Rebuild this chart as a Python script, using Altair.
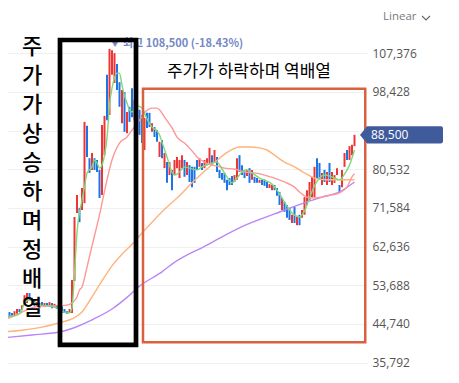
import altair as alt
import pandas as pd

# ---- candle data (index = trading day) ----
opens = [47300,47100,46600,47500,47300,46800,47100,48200,48000,49100,
         49600,51900,49600,50300,48700,48400,49800,48700,49600,48700,
         49600,48700,49100,48900,48700,48200,47700,47300,47300,54700,
         70400,71600,71100,72700,90600,83100,80400,83100,82700,80400,
         74600,83800,102400,93100,102400,100500,104900,100700,91200,98400,
         88900,95000,99300,91900,95400,94300,93100,85000,93600,93600,
         89200,90300,89600,83400,87300,80800,82200,79200,80400,79200,
         80800,78500,80800,82700,79200,81500,81100,81100,82700,81100,
         82000,80800,81500,82000,83800,82200,83400,80400,79700,79700,
         78100,78500,79000,77600,78100,83800,81500,80400,79000,80800,
         78100,78800,78500,77400,78100,78100,77600,76200,75700,76900,
         76200,75300,71100,73000,72300,71600,68100,71800,67600,70000,
         69300,70000,72300,73400,74100,74100,83100,82000,76900,80400,
         76900,82000,76900,77400,79200,76900,76400,81100,85000,82700,
         83800,85900]
closes = [46100,45900,47300,46100,46400,47700,48200,47500,49100,51400,
          51900,50300,50800,48900,49800,49600,48900,49600,48900,49800,
          48400,49400,48200,48000,47300,47300,47100,48200,54900,69500,
          74600,68300,76200,91500,83400,79700,84300,80400,79900,73900,
          90800,92900,91900,108400,108100,107400,98900,95000,98900,89200,
          93800,91500,92600,96600,90800,88500,86600,92400,90100,90300,
          91200,88000,86900,86900,83100,84300,77400,82200,75700,82700,
          83400,82700,83800,78800,82200,77600,76400,77400,80400,83100,
          80400,82700,83100,85500,81500,85000,79900,78500,78100,77400,
          75700,76900,76900,79200,83100,79900,79200,78500,80400,77400,
          80400,77400,77400,78100,76900,76700,76200,77100,76900,75700,
          74400,72300,73900,70700,69300,68800,70000,68100,69500,67600,
          71100,74100,75700,77600,78800,81100,78500,78100,79700,77600,
          79900,77600,79900,79200,80800,75100,80400,84300,82700,85900,
          86200,88500]

# ---- moving averages ----
ma5_idx = [0,4,6,8,9,11,13,15,19,22,24,26,27,28,29,30,32,33,34,36,
           37,38,39,40,41,42,43,44,45,46,47,48,49,50,51,52,54,56,58,60,
           62,63,64,66,68,69,71,73,75,78,80,83,86,88,90,92,94,96,98,100,
           103,106,108,110,112,114,116,119,121,123,125,127,129,131,133,135,137,139,141]
ma5_val = [46400,46600,46800,48000,49800,50300,49600,49100,48900,48400,
           47700,47300,47300,48400,56500,65800,73400,76400,79700,81100,
           82700,82000,80800,81500,83800,87800,95400,99300,101700,102800,
           102800,100000,97500,95900,94300,93800,95200,94700,92200,90300,
           89400,88500,86800,83400,79900,79200,79900,81100,80800,80400,
           81100,81800,82200,80600,78800,77400,78500,79900,80400,79700,
           78500,77800,77100,75700,73900,72000,70400,69500,70900,73900,
           76700,78500,79200,79000,78500,78100,79400,81500,85000]
ma20_idx = [0,4,10,15,20,26,28,30,31,32,34,36,39,42,44,47,50,52,55,57,
            60,62,63,65,68,70,73,76,78,81,84,86,89,93,97,101,105,109,113,117,
            119,122,125,128,132,135,138,140,141]
ma20_val = [45700,46400,48000,48900,48900,49100,49600,51000,52600,53300,
            57900,62800,70000,78100,82700,86600,88000,89600,91900,93600,
            94700,94700,94300,92600,90100,88000,86600,84800,83400,82200,
            81500,81300,80800,80600,79900,79700,79200,78500,77600,76400,
            75300,74100,73900,74100,74600,75100,76400,78800,79500]
ma60_idx = [0,8,16,24,28,32,36,40,44,48,52,56,60,66,71,76,82,87,91,95,
            99,103,106,109,113,117,121,125,130,135,141]
ma60_val = [42900,43300,44000,45200,45900,47500,51000,54700,58200,60900,
            63200,65800,68300,71800,74400,77400,80600,83100,84800,85700,
            85700,85500,85000,83800,82200,81100,79700,78500,78100,78100,78100]
ma120_idx = [0,12,24,28,36,44,50,55,64,68,82,95,109,122,128,135,141]
ma120_val = [41500,42200,43000,43700,45700,48200,50900,53500,56800,58600,
             63000,67000,70200,73000,74100,75300,77600]

tick_values = [35792,44740,53688,62636,71584,80532,89480,98428,107376]
last_price = 88500
high_price = 108500
high_idx = 43
high_label = "▼ 최고 108,500 (-18.43%)"

# annotation boxes (day index / price units)
box_up = dict(x1=23.2, x2=53.6, y1=110450, y2=39900)
box_down = dict(x1=56.4, x2=145.3, y1=99200, y2=40500)

KFONT = "Noto Sans CJK KR"
W, H = 359, 367
xs = alt.Scale(domain=[2.4, 146], nice=False, zero=False)
ys = alt.Scale(domain=[32935, 117859], nice=False, zero=False)

candles = pd.DataFrame({
    "idx": list(range(len(opens))),
    "open": opens,
    "close": closes,
})
candles["dir"] = ["up" if c >= o else "down" for o, c in zip(opens, closes)]

ma_rows = []
for name, ii, vv in [("ma120", ma120_idx, ma120_val), ("ma60", ma60_idx, ma60_val),
                     ("ma20", ma20_idx, ma20_val), ("ma5", ma5_idx, ma5_val)]:
    for i, v in zip(ii, vv):
        ma_rows.append({"idx": i, "val": v, "ma": name})
ma_df = pd.DataFrame(ma_rows)

# the label under the current-price tag is hidden (the tag covers it in the reference)
axis = alt.Axis(orient="right", values=tick_values, format=",d", grid=True,
                gridColor="#efefef", gridWidth=1, domain=False, ticks=False, tickSize=0,
                labelPadding=5, labelFont="Open Sans", labelFontSize=12,
                labelColor="#555555", title=None,
                labelExpr=f"abs(datum.value - {last_price}) < 3000 ? '' : format(datum.value, ',d')")
X = lambda f: alt.X(f, scale=xs, axis=None)
Y = lambda f: alt.Y(f, scale=ys, axis=axis)

ma_layer = alt.Chart(ma_df).mark_line(interpolate="monotone", strokeWidth=1.4, clip=True).encode(
    x=X("idx:Q"),
    y=Y("val:Q"),
    color=alt.Color("ma:N", scale=alt.Scale(domain=["ma5", "ma20", "ma60", "ma120"],
                                            range=["#7fd87a", "#ff9797", "#ffb37c", "#b886f8"]),
                    legend=None),
)

candle_layer = alt.Chart(candles).mark_rule(strokeWidth=2, clip=True).encode(
    x=X("idx:Q"),
    y=Y("open:Q"),
    y2="close:Q",
    stroke=alt.Stroke("dir:N", scale=alt.Scale(domain=["up", "down"], range=["#ee3434", "#1c74e6"]),
                      legend=None),
)

hi_df = pd.DataFrame({"idx": [high_idx], "price": [high_price], "t": [high_label]})
hi_text = alt.Chart(hi_df).mark_text(align="left", baseline="middle", dy=-4.5, font=KFONT,
                                     fontSize=11, fontWeight="bold", color="#7489c3").encode(
    x=X("idx:Q"),
    y=Y("price:Q"),
    text="t:N",
)

box1 = alt.Chart(pd.DataFrame([box_up])).mark_rect(fillOpacity=0, stroke="#000000", strokeWidth=4.7).encode(
    x=X("x1:Q"), x2="x2:Q",
    y=Y("y1:Q"), y2="y2:Q",
)
box2 = alt.Chart(pd.DataFrame([box_down])).mark_rect(fillOpacity=0, stroke="#d9613d", strokeWidth=2.5).encode(
    x=X("x1:Q"), x2="x2:Q",
    y=Y("y1:Q"), y2="y2:Q",
)

one = pd.DataFrame({"a": [1]})
vert_text = alt.Chart(one).mark_text(
    text="주\n가\n가\n상\n승\n하\n며\n정\n배\n열", lineBreak="\n", lineHeight=29,
    align="center", baseline="top", font=KFONT, fontSize=22, fontWeight=500, color="#000000",
).encode(x=alt.value(24), y=alt.value(29))

down_text = alt.Chart(one).mark_text(
    text="주가가 하락하며 역배열", align="center", baseline="middle",
    font=KFONT, fontSize=17, color="#000000",
).encode(x=alt.value(241), y=alt.value(64))

price_df = pd.DataFrame({"price": [last_price], "t": [f"{last_price:,}"]})
tag_shape = ("M-1,0L-0.83,-0.205L0.95,-0.205Q1,-0.205,1,-0.155L1,0.155"
             "Q1,0.205,0.95,0.205L-0.83,0.205Z")
price_tag = alt.Chart(price_df).mark_point(shape=tag_shape, size=6889, filled=True,
                                           opacity=1, color="#3f5b9c", strokeWidth=0).encode(
    x=alt.value(393.5),
    y=Y("price:Q"),
)
price_txt = alt.Chart(price_df).mark_text(align="left", baseline="middle", font="Open Sans",
                                          fontSize=12, color="#ffffff").encode(
    x=alt.value(363),
    y=Y("price:Q"),
    text="t:N",
)

linear_txt = alt.Chart(one).mark_text(text="Linear", align="left", baseline="middle",
                                      font="Open Sans", fontSize=11.5, color="#7a7a7a").encode(
    x=alt.value(375), y=alt.value(9))
chevron = alt.Chart(one).mark_point(shape="M-1,-0.5L0,0.5L1,-0.5", filled=False, size=64,
                                    color="#666666", strokeWidth=1.1, opacity=1).encode(
    x=alt.value(418), y=alt.value(10))

chart = alt.layer(
    candle_layer, ma_layer, hi_text, box1, box2,
    vert_text, down_text, price_tag, price_txt, linear_txt, chevron,
).resolve_scale(color="independent", stroke="independent").properties(
    width=W, height=H, padding={"left": 0, "top": 0, "right": 0, "bottom": 0}
).configure_view(strokeWidth=0)

chart.save("out.html", embed_options={"renderer": "svg", "actions": False})
